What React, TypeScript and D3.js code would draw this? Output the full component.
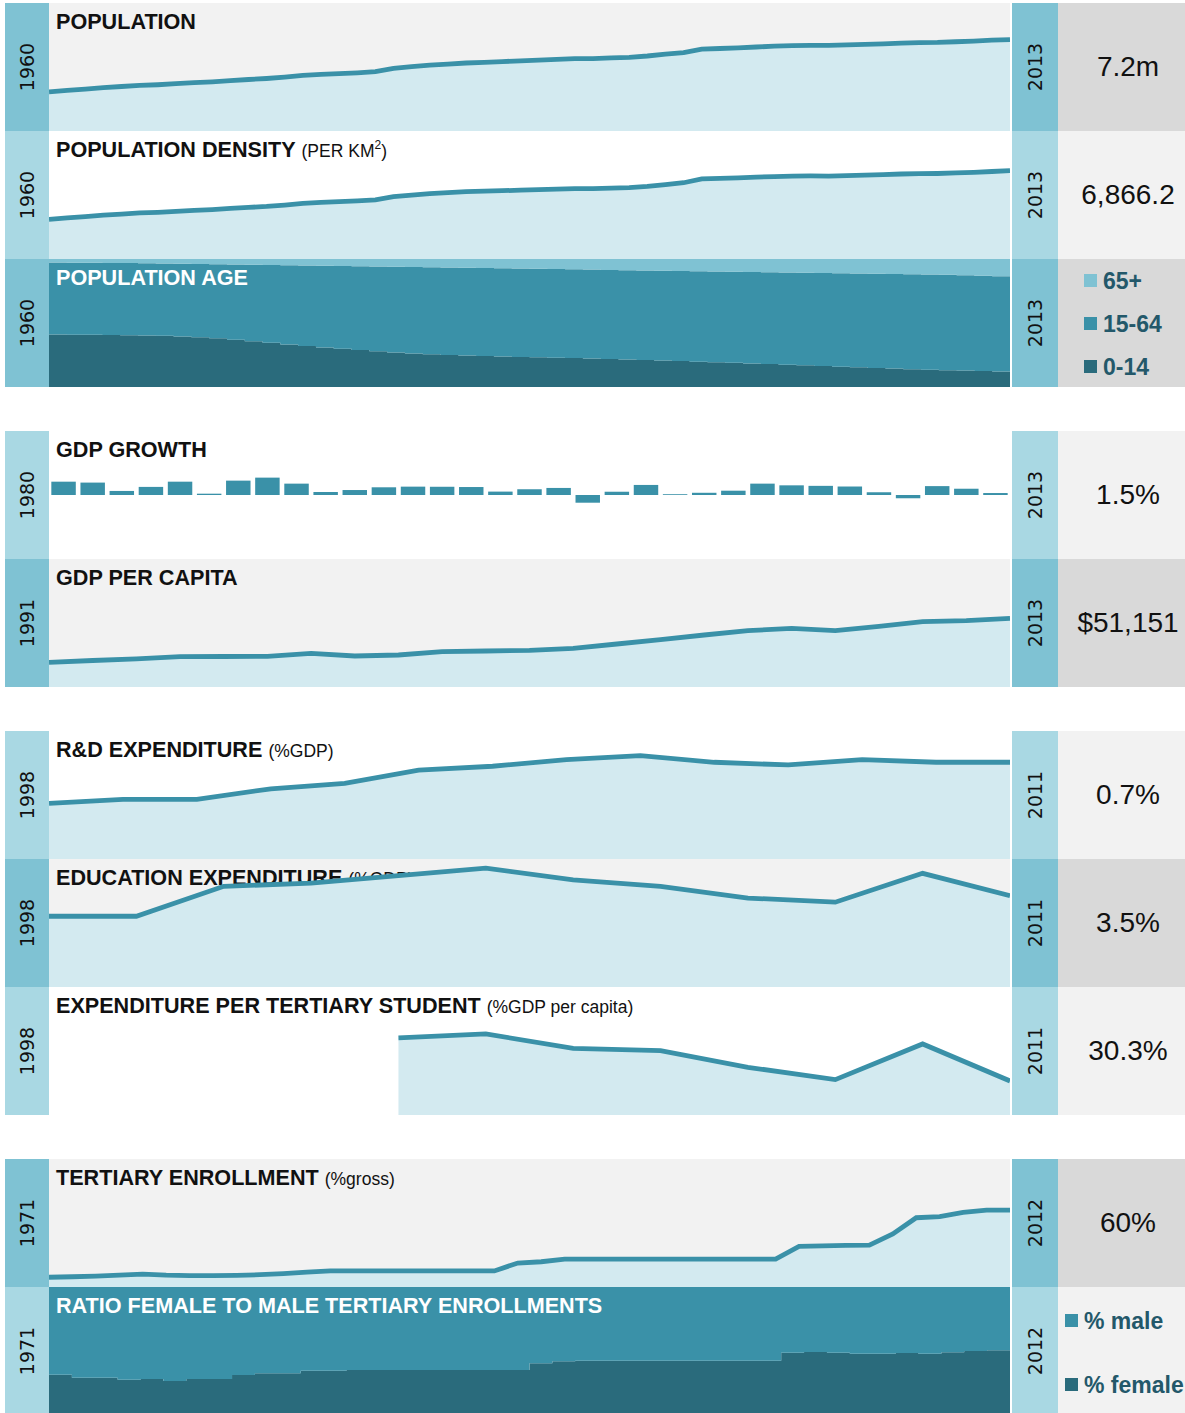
import React from 'react';
import * as d3 from 'd3';

// ---- data ----
const popYears = d3.range(1960, 2014).map(String);

// population, millions
const populationMillions = [
  3.08, 3.19, 3.3, 3.41, 3.5, 3.59, 3.64, 3.72, 3.8, 3.87,
  3.96, 4.05, 4.13, 4.24, 4.37, 4.46, 4.52, 4.58, 4.67, 4.93,
  5.06, 5.18, 5.26, 5.35, 5.4, 5.46, 5.52, 5.58, 5.63, 5.69,
  5.7, 5.75, 5.8, 5.9, 6.04, 6.16, 6.44, 6.49, 6.54, 6.61,
  6.67, 6.71, 6.74, 6.73, 6.78, 6.81, 6.86, 6.92, 6.96, 6.97,
  7.02, 7.07, 7.15, 7.19,
];

// people per km2
const populationDensity = [
  3087, 3190, 3300, 3410, 3495, 3580, 3630, 3705, 3780, 3840,
  3930, 4015, 4085, 4195, 4320, 4405, 4460, 4515, 4600, 4850,
  4975, 5090, 5165, 5245, 5270, 5310, 5355, 5400, 5440, 5475,
  5480, 5510, 5550, 5640, 5790, 5930, 6225, 6265, 6305, 6365,
  6410, 6440, 6460, 6450, 6490, 6515, 6555, 6610, 6640, 6650,
  6690, 6735, 6805, 6866.2,
];

// age structure, % of population
const age0to14 = [
  41.0, 40.9, 40.8, 40.6, 40.5, 40.3, 40.0, 39.5, 38.8, 38.0,
  37.0, 35.8, 34.5, 33.2, 32.0, 30.9, 29.9, 29.0, 28.0, 27.0,
  26.2, 25.5, 25.0, 24.6, 24.2, 23.8, 23.5, 23.2, 22.9, 22.6,
  22.3, 21.9, 21.5, 21.1, 20.7, 20.3, 19.8, 19.3, 18.9, 18.4,
  17.9, 17.4, 16.9, 16.4, 15.9, 15.4, 14.9, 14.4, 13.9, 13.5,
  13.1, 12.8, 12.5, 12.2,
];
const age15to64 = [
  56.2, 56.2, 56.2, 56.3, 56.3, 56.3, 56.5, 56.8, 57.3, 57.9,
  58.7, 59.7, 60.8, 61.9, 62.9, 63.8, 64.6, 65.3, 66.1, 66.9,
  67.5, 68.0, 68.3, 68.5, 68.7, 68.9, 69.0, 69.1, 69.2, 69.3,
  69.4, 69.6, 69.8, 70.0, 70.2, 70.4, 70.7, 71.0, 71.2, 71.5,
  71.8, 72.1, 72.4, 72.7, 73.0, 73.3, 73.6, 73.9, 74.2, 74.4,
  74.6, 74.6, 74.5, 74.3,
];
const age65plus = [
  2.8, 2.9, 3.0, 3.1, 3.2, 3.4, 3.5, 3.7, 3.9, 4.1,
  4.3, 4.5, 4.7, 4.9, 5.1, 5.3, 5.5, 5.7, 5.9, 6.1,
  6.3, 6.5, 6.7, 6.9, 7.1, 7.3, 7.5, 7.7, 7.9, 8.1,
  8.3, 8.5, 8.7, 8.9, 9.1, 9.3, 9.5, 9.7, 9.9, 10.1,
  10.3, 10.5, 10.7, 10.9, 11.1, 11.3, 11.5, 11.7, 11.9, 12.1,
  12.3, 12.6, 13.0, 13.5,
];
const ageLegend = ['65+', '15-64', '0-14'];

// GDP growth, annual %
const gdpGrowthYears = d3.range(1980, 2013).map(String);
const gdpGrowth = [
  10.2, 9.5, 3.1, 6.2, 10.2, 1.0, 11.0, 13.3, 8.7, 2.3,
  3.8, 5.9, 6.4, 6.3, 6.1, 2.6, 4.4, 5.4, -5.9, 2.5,
  7.7, 0.6, 1.7, 3.3, 8.7, 7.4, 7.0, 6.5, 2.1, -2.5,
  6.8, 4.8, 1.5,
];

// GDP per capita, $
const gdpPcYears = d3.range(1991, 2014).map(String);
const gdpPerCapita = [
  18390, 19730, 21000, 22560, 22710, 22860, 25090, 23080, 23830, 26280,
  26810, 27330, 28820, 32020, 35220, 38720, 41920, 43710, 41920, 45200,
  48620, 49370, 51151,
];

// R&D expenditure, %GDP
const rdYears = d3.range(1998, 2012).map(String);
const rdExpenditure = [0.42, 0.45, 0.45, 0.53, 0.57, 0.67, 0.7, 0.75, 0.78, 0.73, 0.71, 0.75, 0.73, 0.73];

// education expenditure, %GDP, and per tertiary student, %GDP per capita
const eduYears = ['1998', '1999', '2000', '2001', '2002', '2003', '2004', '2005', '2006', '2007', '2008', '2011'];
const eduExpenditure = [2.72, 2.72, 3.87, 3.99, 4.28, 4.57, 4.12, 3.87, 3.42, 3.26, 4.37, 3.51];
const tertiaryStudentExp = [null, null, null, null, 68.6, 72.2, 59.4, 57.3, 42.5, 31.5, 63.3, 30.3];

// tertiary enrollment, %gross, and shares by sex
const enrollYears = d3.range(1971, 2013).map(String);
const tertiaryEnrollment = [
  7.6, 8.0, 8.5, 9.2, 10.1, 9.2, 8.8, 8.8, 9.0, 9.6,
  10.5, 11.6, 12.5, 12.5, 12.5, 12.5, 12.5, 12.5, 12.5, 12.5,
  18.7, 19.7, 21.8, 21.8, 21.8, 21.8, 21.8, 21.8, 21.8, 21.8,
  21.8, 21.8, 31.7, 32.0, 32.4, 32.7, 41.3, 54.0, 54.8, 58.2,
  60.0, 60.0,
];
const femaleShare = [
  31.5, 29.1, 29.1, 27.6, 28.1, 26.6, 28.1, 28.1, 31.3, 32.6,
  32.6, 34.6, 34.6, 35.2, 35.2, 35.2, 35.2, 35.2, 35.2, 35.2,
  35.2, 40.4, 42.0, 42.4, 42.4, 42.4, 42.4, 42.4, 42.4, 42.4,
  42.4, 42.4, 48.7, 49.2, 48.7, 47.9, 47.9, 48.4, 47.9, 49.0,
  50.0, 50.5,
];
const maleShare = [
  68.5, 70.9, 70.9, 72.4, 71.9, 73.4, 71.9, 71.9, 68.7, 67.4,
  67.4, 65.4, 65.4, 64.8, 64.8, 64.8, 64.8, 64.8, 64.8, 64.8,
  64.8, 59.6, 58.0, 57.6, 57.6, 57.6, 57.6, 57.6, 57.6, 57.6,
  57.6, 57.6, 51.3, 50.8, 51.3, 52.1, 52.1, 51.6, 52.1, 51.0,
  50.0, 49.5,
];
const sexLegend = ['% male', '% female'];

// ---- layout ----
const W = 1185;
const SVG_H = 1413;
const H = 128;
const X0 = 49;
const X1 = 1010;
const rowTops = [3, 131, 259, 431, 559, 731, 859, 987, 1159, 1287];

const c = {
  stripDark: '#7fc2d3',
  stripLight: '#a9d8e3',
  bgDark: '#f2f2f2',
  bgLight: '#ffffff',
  panelDark: '#d9d9d9',
  panelLight: '#f2f2f2',
  fill: '#d3eaf0',
  line: '#3a91a8',
  mid: '#3a91a8',
  deep: '#2a6b7c',
  legendText: '#23586a',
};

const TITLE_FONT = "'Liberation Sans', Arial, sans-serif";
const YEAR_FONT = "'DejaVu Sans', Verdana, sans-serif";

type Row = {
  title: string;
  sub?: React.ReactNode;
  from: string;
  to: string;
  value?: string;
  kind: 'area' | 'bars' | 'age' | 'sex';
  years?: string[];
  values?: (number | null)[];
  yMax?: number;
};

const rows: Row[] = [
  { title: 'POPULATION', from: '1960', to: '2013', value: '7.2m', kind: 'area', years: popYears, values: populationMillions, yMax: 10.07 },
  {
    title: 'POPULATION DENSITY',
    sub: (<>(PER KM<tspan dy={-8} fontSize={12}>2</tspan><tspan dy={8}>)</tspan></>),
    from: '1960', to: '2013', value: '6,866.2', kind: 'area', years: popYears, values: populationDensity, yMax: 9953,
  },
  { title: 'POPULATION AGE', from: '1960', to: '2013', kind: 'age' },
  { title: 'GDP GROWTH', from: '1980', to: '2013', value: '1.5%', kind: 'bars' },
  { title: 'GDP PER CAPITA', from: '1991', to: '2013', value: '$51,151', kind: 'area', years: gdpPcYears, values: gdpPerCapita, yMax: 95300 },
  { title: 'R&D EXPENDITURE', sub: '(%GDP)', from: '1998', to: '2011', value: '0.7%', kind: 'area', years: rdYears, values: rdExpenditure, yMax: 0.966 },
  { title: 'EDUCATION EXPENDITURE', sub: '(%GDP)', from: '1998', to: '2011', value: '3.5%', kind: 'area', years: eduYears, values: eduExpenditure, yMax: 4.92 },
  { title: 'EXPENDITURE PER TERTIARY STUDENT', sub: '(%GDP per capita)', from: '1998', to: '2011', value: '30.3%', kind: 'area', years: eduYears, values: tertiaryStudentExp, yMax: 114 },
  { title: 'TERTIARY ENROLLMENT', sub: '(%gross)', from: '1971', to: '2012', value: '60%', kind: 'area', years: enrollYears, values: tertiaryEnrollment, yMax: 99.8 },
  { title: 'RATIO FEMALE TO MALE TERTIARY ENROLLMENTS', from: '1971', to: '2012', kind: 'sex' },
];

const Title = ({ top, text, sub, white }: { top: number; text: string; sub?: React.ReactNode; white?: boolean }) => (
  <text x={56} y={top + 26} fontFamily={TITLE_FONT} fontSize={21.6} fontWeight="bold" fill={white ? '#fff' : '#111'}>
    {text}
    {sub ? <tspan fontWeight="normal" fontSize={17.5} dx={6}>{sub}</tspan> : null}
  </text>
);

function AreaChart({ top, years, values, yMax }: { top: number; years: string[]; values: (number | null)[]; yMax: number }) {
  const x = d3.scalePoint<string>().domain(years).range([X0, X1]);
  const y = d3.scaleLinear().domain([0, yMax]).range([top + H, top]);
  const pts = years.map((yr, i) => ({ yr, v: values[i] }));
  const area = d3.area<{ yr: string; v: number | null }>()
    .defined(d => d.v != null)
    .x(d => x(d.yr)!)
    .y0(top + H)
    .y1(d => y(d.v as number));
  const line = d3.line<{ yr: string; v: number | null }>()
    .defined(d => d.v != null)
    .x(d => x(d.yr)!)
    .y(d => y(d.v as number));
  return (
    <g>
      <path d={area(pts) || ''} fill={c.fill} />
      <path d={line(pts) || ''} fill="none" stroke={c.line} strokeWidth={4.8} />
    </g>
  );
}

function GrowthBars({ top }: { top: number }) {
  const x = d3.scaleBand<string>().domain(gdpGrowthYears).range([X0, X1]).paddingInner(0.16).paddingOuter(0.08);
  const y = d3.scaleLinear().domain([-49, 49]).range([top + H, top]);
  return (
    <g>
      {gdpGrowthYears.map((yr, i) => {
        const v = gdpGrowth[i];
        return (
          <rect key={yr} x={x(yr)} width={x.bandwidth()} y={Math.min(y(v), y(0))}
            height={Math.abs(y(v) - y(0))} fill={c.mid} />
        );
      })}
    </g>
  );
}

// stacked 100% steps, one band per year
function StackSteps({ top, years, series, colors }: {
  top: number; years: string[]; series: number[][]; colors: string[];
}) {
  const keys = series.map((_, k) => 'k' + k);
  const table = years.map((yr, i) => {
    const o: Record<string, number | string> = { yr };
    series.forEach((s, k) => { o['k' + k] = s[i]; });
    return o;
  });
  const stacked = d3.stack<Record<string, number | string>>().keys(keys).offset(d3.stackOffsetExpand)(table);
  const x = d3.scaleBand<string>().domain(years).range([X0, X1]);
  const y = d3.scaleLinear().domain([0, 1]).range([top + H, top]);
  return (
    <g>
      {stacked.map((layer, k) => {
        const pts = layer.map((d, i) => ({ x: x(years[i])!, y0: d[0], y1: d[1] }));
        const last = pts[pts.length - 1];
        pts.push({ x: X1, y0: last.y0, y1: last.y1 });
        const area = d3.area<{ x: number; y0: number; y1: number }>()
          .curve(d3.curveStepAfter)
          .x(d => d.x)
          .y0(d => y(d.y0))
          .y1(d => y(d.y1));
        return <path key={k} d={area(pts) || ''} fill={colors[k]} />;
      })}
    </g>
  );
}

const Legend = ({ items, colors, x, ys }: { items: string[]; colors: string[]; x: number; ys: number[] }) => (
  <g>
    {items.map((t, i) => (
      <g key={t}>
        <rect x={x} y={ys[i] - 6.5} width={13} height={13} fill={colors[i]} />
        <text x={x + 19} y={ys[i]} dominantBaseline="central" fontFamily={TITLE_FONT} fontSize={23}
          fontWeight="bold" fill={c.legendText}>{t}</text>
      </g>
    ))}
  </g>
);

export default function App() {
  return (
    <svg width={W} height={SVG_H} style={{ position: 'absolute', left: 0, top: 0, display: 'block' }}>
      <defs>
        {rowTops.map((top, i) => (
          <clipPath key={i} id={'clip' + i}>
            <rect x={X0} y={top} width={X1 - X0} height={H} />
          </clipPath>
        ))}
      </defs>
      {rows.map((r, i) => {
        const top = rowTops[i];
        const dark = i % 2 === 0;
        const strip = dark ? c.stripDark : c.stripLight;
        return (
          <g key={i}>
            <rect x={X0} y={top} width={X1 - X0} height={H} fill={dark ? c.bgDark : c.bgLight} />
            <g clipPath={`url(#clip${i})`}>
              {r.kind === 'area' && (
                <>
                  <Title top={top} text={r.title} sub={r.sub} />
                  <AreaChart top={top} years={r.years!} values={r.values!} yMax={r.yMax!} />
                </>
              )}
              {r.kind === 'bars' && (
                <>
                  <Title top={top} text={r.title} />
                  <GrowthBars top={top} />
                </>
              )}
              {r.kind === 'age' && (
                <>
                  <StackSteps top={top} years={popYears} series={[age0to14, age15to64, age65plus]}
                    colors={[c.deep, c.mid, c.stripDark]} />
                  <Title top={top} text={r.title} white />
                </>
              )}
              {r.kind === 'sex' && (
                <>
                  <StackSteps top={top} years={enrollYears} series={[femaleShare, maleShare]}
                    colors={[c.deep, c.mid]} />
                  <Title top={top} text={r.title} white />
                </>
              )}
            </g>
            {/* year strips */}
            <rect x={5} y={top} width={X0 - 5} height={H} fill={strip} />
            <rect x={1012} y={top} width={46} height={H} fill={strip} />
            <text transform={`translate(27,${top + H / 2}) rotate(-90)`} textAnchor="middle" dominantBaseline="central"
              fontFamily={YEAR_FONT} fontSize={19} fill="#111">{r.from}</text>
            <text transform={`translate(1035,${top + H / 2}) rotate(-90)`} textAnchor="middle" dominantBaseline="central"
              fontFamily={YEAR_FONT} fontSize={19} fill="#111">{r.to}</text>
            {/* value panel */}
            <rect x={1058} y={top} width={140} height={H} fill={dark ? c.panelDark : c.panelLight} />
            {r.value && (
              <text x={1128} y={top + 73} textAnchor="middle" fontFamily={TITLE_FONT} fontSize={28} fill="#111">
                {r.value}
              </text>
            )}
            {r.kind === 'age' && (
              <Legend items={ageLegend} colors={[c.stripDark, c.mid, c.deep]} x={1084}
                ys={[top + 21.5, top + 64.5, top + 107.5]} />
            )}
            {r.kind === 'sex' && (
              <Legend items={sexLegend} colors={[c.mid, c.deep]} x={1065} ys={[top + 33.5, top + 97.5]} />
            )}
          </g>
        );
      })}
    </svg>
  );
}
